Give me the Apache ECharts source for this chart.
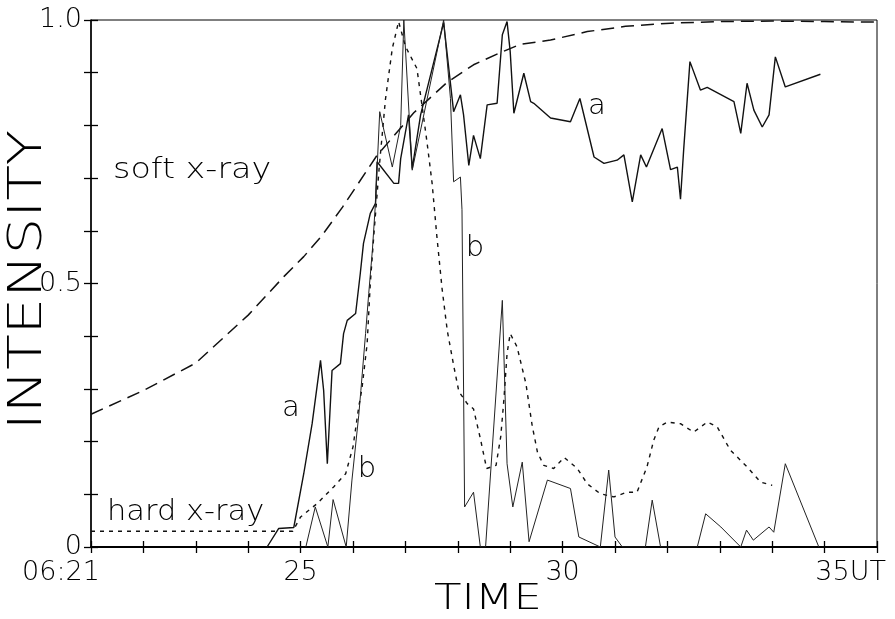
<!DOCTYPE html>
<html><head><meta charset="utf-8">
<script src="https://cdn.jsdelivr.net/npm/echarts@6/dist/echarts.min.js"></script>
<style>html,body{margin:0;padding:0;background:#fff}#c{width:895px;height:619px}</style>
</head><body><div id="c"></div>
<script>
// ---- data (minutes after 06:00 UT, normalised intensity) ----
const softTime = [21, 22, 23, 24, 24.68, 25.06, 25.4, 25.8, 26.45, 27.16, 27.8, 28.3, 28.81, 29.2, 29.77, 30.47, 31.2, 32.06, 33, 34, 35, 36];
const softIntensity = [0.252, 0.297, 0.349, 0.44, 0.513, 0.551, 0.59, 0.645, 0.742, 0.824, 0.882, 0.915, 0.938, 0.954, 0.962, 0.978, 0.988, 0.994, 0.997, 0.998, 0.997, 0.996];

const hardTime = [21, 24.85, 25.0, 25.31, 25.63, 25.86, 26.0, 26.11, 26.17, 26.27, 26.33, 26.4, 26.5, 26.62, 26.75, 26.87, 27.0, 27.22, 27.3, 27.41, 27.51, 27.6, 27.7, 27.8, 27.92, 28.02, 28.18, 28.3, 28.43, 28.55, 28.73, 28.82, 28.88, 28.94, 29.0, 29.13, 29.3, 29.42, 29.52, 29.64, 29.83, 30.03, 30.28, 30.47, 30.72, 30.98, 31.23, 31.42, 31.61, 31.74, 31.84, 32.0, 32.25, 32.5, 32.76, 32.95, 33.2, 33.52, 33.78, 34.0];
const hardIntensity = [0.03, 0.03, 0.057, 0.082, 0.114, 0.139, 0.19, 0.266, 0.30, 0.386, 0.50, 0.595, 0.72, 0.85, 0.946, 0.997, 0.95, 0.908, 0.85, 0.77, 0.69, 0.59, 0.49, 0.41, 0.345, 0.295, 0.272, 0.262, 0.206, 0.149, 0.155, 0.21, 0.28, 0.367, 0.405, 0.38, 0.31, 0.23, 0.18, 0.155, 0.149, 0.17, 0.149, 0.12, 0.101, 0.095, 0.104, 0.104, 0.152, 0.203, 0.228, 0.237, 0.234, 0.218, 0.237, 0.228, 0.184, 0.152, 0.123, 0.117];

const aTime = [24.36, 24.58, 24.87, 25.06, 25.22, 25.38, 25.44, 25.51, 25.6, 25.76, 25.82, 25.89, 26.05, 26.14, 26.2, 26.33, 26.43, 26.46, 26.78, 26.87, 26.91, 27.06, 27.13, 27.29, 27.73, 27.92, 28.05, 28.11, 28.21, 28.3, 28.43, 28.56, 28.75, 28.85, 28.94, 29.0, 29.07, 29.26, 29.39, 29.45, 29.77, 30.15, 30.33, 30.6, 30.79, 31.04, 31.17, 31.33, 31.49, 31.6, 31.9, 32.06, 32.19, 32.25, 32.31, 32.43, 32.63, 32.76, 33.27, 33.4, 33.52, 33.65, 33.81, 33.94, 34.06, 34.25, 34.92];
const aIntensity = [0, 0.035, 0.037, 0.139, 0.234, 0.354, 0.297, 0.158, 0.335, 0.348, 0.405, 0.43, 0.443, 0.52, 0.576, 0.633, 0.652, 0.731, 0.69, 0.69, 0.737, 0.82, 0.718, 0.82, 0.995, 0.826, 0.858, 0.82, 0.724, 0.781, 0.737, 0.839, 0.842, 0.972, 0.997, 0.94, 0.823, 0.899, 0.845, 0.842, 0.814, 0.807, 0.851, 0.74, 0.728, 0.734, 0.744, 0.655, 0.744, 0.721, 0.794, 0.716, 0.721, 0.66, 0.753, 0.921, 0.867, 0.872, 0.845, 0.785, 0.88, 0.829, 0.797, 0.82, 0.93, 0.873, 0.897];

const bTime = [25.1, 25.28, 25.52, 25.62, 25.87, 25.98, 26.11, 26.15, 26.24, 26.3, 26.37, 26.43, 26.51, 26.75, 26.91, 26.97, 27.13, 27.73, 27.86, 27.92, 28.05, 28.08, 28.13, 28.3, 28.43, 28.53, 28.85, 28.94, 29.05, 29.23, 29.36, 29.71, 30.15, 30.31, 30.72, 30.88, 31.0, 31.14, 31.58, 31.71, 31.87, 32.57, 32.73, 33.02, 33.4, 33.51, 33.64, 33.94, 34.03, 34.25, 34.89];
const bIntensity = [0, 0.076, 0, 0.09, 0, 0.127, 0.25, 0.297, 0.405, 0.481, 0.563, 0.655, 0.826, 0.721, 0.80, 1.0, 0.715, 1.0, 0.851, 0.693, 0.702, 0.64, 0.076, 0.104, 0, 0, 0.468, 0.158, 0.076, 0.161, 0.01, 0.127, 0.111, 0.019, 0, 0.146, 0.019, 0, 0, 0.089, 0, 0, 0.063, 0.038, 0, 0.032, 0.013, 0.038, 0.028, 0.158, 0];

const xTickLabels = {21: '{l|06:21}', 25: '25', 30: '30', 35: '{r|35UT}'};
const yTickLabels = {0: '0', 5: '0.5', 10: '1.0'};
const axisTitleX = 'TIME';
const axisTitleY = 'INTENSITY';
const curveLabels = ['soft x-ray', 'hard x-ray', 'a', 'b', 'a', 'b'];

// ---- chart ----
const FAMILY = '"DejaVu Sans", sans-serif';
const WEIGHT = 200;
const INK = '#000';
const zip = (t, v) => t.map((x, i) => [x, v[i]]);

const chart = echarts.init(document.getElementById('c'), null, {renderer: 'canvas'});

const tickLbl = {fontFamily: FAMILY, fontSize: 27, fontWeight: WEIGHT, color: INK};

function txt(text, x, y, size, sx, rot, align) {
  return {
    type: 'text', x: x, y: y, rotation: rot || 0, scaleX: sx || 1, scaleY: 1, z: 100,
    style: {
      text: text, x: 0, y: 0, fill: INK,
      font: WEIGHT + ' ' + size + 'px ' + FAMILY,
      textAlign: align || 'center', align: align || 'center',
      textVerticalAlign: 'middle', verticalAlign: 'middle'
    }
  };
}

const option = {
  animation: false,
  backgroundColor: '#fff',
  grid: {left: 91, right: 18, top: 20, bottom: 72, show: true, borderColor: '#000', borderWidth: 1},
  xAxis: [{
    type: 'value', min: 21, max: 36, interval: 1,
    axisLine: {show: true, onZero: false, lineStyle: {color: '#000', width: 2}},
    axisTick: {show: true, inside: true, length: 6, lineStyle: {color: '#000', width: 1.3}},
    splitLine: {show: false},
    axisLabel: {
      ...tickLbl, margin: 12, showMaxLabel: true, showMinLabel: true,
      formatter: v => xTickLabels[Math.round(v)] || '',
      rich: {
        l: {...tickLbl, padding: [0, 60, 0, 0]},
        r: {...tickLbl, padding: [0, 0, 0, 52]}
      }
    }
  }, {
    type: 'value', min: 21, max: 36, interval: 1, position: 'bottom',
    axisLine: {show: false, onZero: false},
    axisTick: {show: true, inside: false, length: 6, lineStyle: {color: '#000', width: 1.3}},
    splitLine: {show: false}, axisLabel: {show: false}
  }],
  yAxis: [{
    type: 'value', min: 0, max: 1, interval: 0.1,
    axisLine: {show: true, onZero: false, lineStyle: {color: '#000', width: 1.5}},
    axisTick: {show: true, inside: true, length: 7, lineStyle: {color: '#000', width: 1.3}},
    splitLine: {show: false},
    axisLabel: {
      ...tickLbl, margin: 9, showMaxLabel: true,
      formatter: v => { const k = Math.round(v * 10); return yTickLabels[k] !== undefined && Math.abs(v * 10 - k) < 1e-6 ? yTickLabels[k] : ''; }
    }
  }, {
    type: 'value', min: 0, max: 1, interval: 0.1, position: 'left',
    axisLine: {show: false, onZero: false},
    axisTick: {show: true, inside: false, length: 7, lineStyle: {color: '#000', width: 1.3}},
    splitLine: {show: false}, axisLabel: {show: false}
  }],
  series: [
    {name: 'soft x-ray', type: 'line', data: zip(softTime, softIntensity), showSymbol: false, symbol: 'none',
     lineStyle: {color: '#111', width: 1.5, type: [13, 7]}, z: 3},
    {name: 'hard x-ray', type: 'line', data: zip(hardTime, hardIntensity), showSymbol: false, symbol: 'none',
     lineStyle: {color: '#111', width: 1.4, type: [4, 5]}, z: 3},
    {name: 'a', type: 'line', data: zip(aTime, aIntensity), showSymbol: false, symbol: 'none',
     lineStyle: {color: '#111', width: 1.4}, z: 4},
    {name: 'b', type: 'line', data: zip(bTime, bIntensity), showSymbol: false, symbol: 'none',
     lineStyle: {color: '#222', width: 1.0}, z: 4}
  ],
  graphic: [
    txt(axisTitleY, 29, 280, 46, 1.26, Math.PI / 2),
    txt(axisTitleX, 488, 600, 36, 1.25),
    txt(curveLabels[0], 113, 170, 29, 1.15, 0, 'left'),
    txt(curveLabels[1], 107, 512, 29, 1.05, 0, 'left'),
    txt(curveLabels[2], 291, 408, 29),
    txt(curveLabels[3], 367, 469, 29),
    txt(curveLabels[4], 597, 106, 29),
    txt(curveLabels[5], 475, 248, 29)
  ]
};
chart.setOption(option);
</script>
</body></html>
